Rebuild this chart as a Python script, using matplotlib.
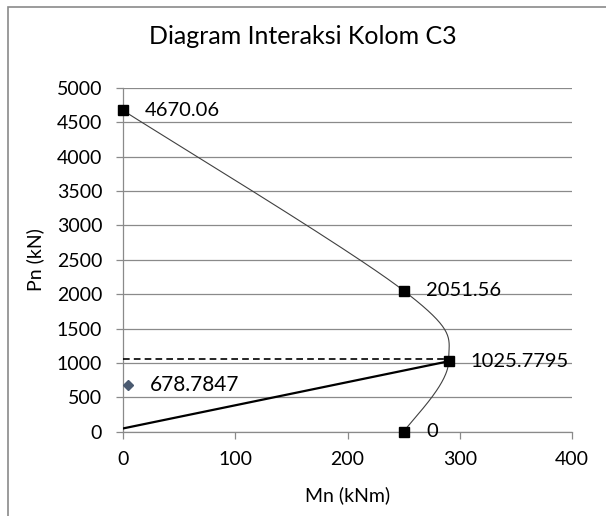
import numpy as np
import matplotlib
matplotlib.use("Agg")
import matplotlib.pyplot as plt
from matplotlib.patches import Rectangle

plt.rcParams['font.family'] = ['Lato', 'DejaVu Sans']

# interaction curve points (Mn, Pn)
mn_curve = [0, 250, 290, 250]
pn_curve = [4670.06, 2051.56, 1025.7795, 0]
curve_labels = ["4670.06", "2051.56", "1025.7795", "0"]

# straight line from origin region to balanced point
mn_line = [0, 290]
pn_line = [50, 1025.7795]

# dashed horizontal line
mn_dash = [0, 290]
pn_dash = [1060, 1060]

# single load point
mn_load = [4]
pn_load = [678.7847]
load_label = "678.7847"

x_ticks = [0, 100, 200, 300, 400]
y_ticks = list(range(0, 5001, 500))


def smooth(xs, ys, sx, sy, n=60):
    """Excel-like smoothed line (Catmull-Rom bezier), done in screen scale."""
    p = np.column_stack([np.array(xs) * sx, np.array(ys) * sy])
    p = np.vstack([p[0], p, p[-1]])
    out = []
    t = np.linspace(0, 1, n)[:, None]
    for i in range(1, len(p) - 2):
        b0 = p[i]
        b1 = p[i] + (p[i + 1] - p[i - 1]) / 6
        b2 = p[i + 1] - (p[i + 2] - p[i]) / 6
        b3 = p[i + 1]
        seg = (1 - t) ** 3 * b0 + 3 * (1 - t) ** 2 * t * b1 + 3 * (1 - t) * t ** 2 * b2 + t ** 3 * b3
        out.append(seg)
    out = np.vstack(out)
    return out[:, 0] / sx, out[:, 1] / sy


fig = plt.figure(figsize=(6.06, 5.16), dpi=100)
ax = fig.add_axes([0.203, 0.163, 0.741, 0.667])

ax.set_xlim(0, 400)
ax.set_ylim(0, 5000)

# screen scale: pixels per data unit
sx = 449 / 400
sy = 344 / 5000
cx, cy = smooth(mn_curve, pn_curve, sx, sy)
ax.plot(cx, cy, color="#404040", lw=0.8, zorder=3, clip_on=False)
ax.plot(mn_curve, pn_curve, ls="none", marker="s", ms=7.5, color="black", zorder=4, clip_on=False)

ax.plot(mn_line, pn_line, color="black", lw=1.6, zorder=3)
ax.plot(mn_dash, pn_dash, color="black", lw=1.2, ls=(0, (4, 2.5)), zorder=3)
ax.plot(mn_load, pn_load, ls="none", marker="D", ms=5, color="#4a5a70", zorder=4)

for x, y, lab in zip(mn_curve, pn_curve, curve_labels):
    ax.annotate(lab, (x, y), xytext=(16, 0), textcoords="offset points",
                va="center", ha="left", fontsize=14.5)
ax.annotate(load_label, (mn_load[0], pn_load[0]), xytext=(16, 0), textcoords="offset points",
            va="center", ha="left", fontsize=15)

ax.set_xticks(x_ticks)
ax.set_yticks(y_ticks)
ax.grid(axis="y", color="#8a8a8a", lw=0.9)
ax.set_axisbelow(True)
for s in ["top", "right"]:
    ax.spines[s].set_visible(False)
for s in ["left", "bottom"]:
    ax.spines[s].set_color("#8a8a8a")
    ax.spines[s].set_linewidth(0.9)
ax.tick_params(axis="both", colors="#8a8a8a", labelcolor="black", labelsize=14,
               length=5, width=0.9, direction="out")
ax.tick_params(axis="x", pad=9)
ax.tick_params(axis="y", pad=10)

ax.set_xlabel("Mn (kNm)", fontsize=14, labelpad=13)
ax.set_ylabel("Pn (kN)", fontsize=14, labelpad=9)
fig.text(0.5, 0.93, "Diagram Interaksi Kolom C3", ha="center", va="center", fontsize=18)

# chart area border
fig.patches.append(Rectangle((8 / 606, -0.1), 1.2, 1 - 7 / 516 + 0.1, transform=fig.transFigure,
                             fill=False, edgecolor="#8a8a8a", lw=1.2))

fig.savefig("out.png", dpi=100)
